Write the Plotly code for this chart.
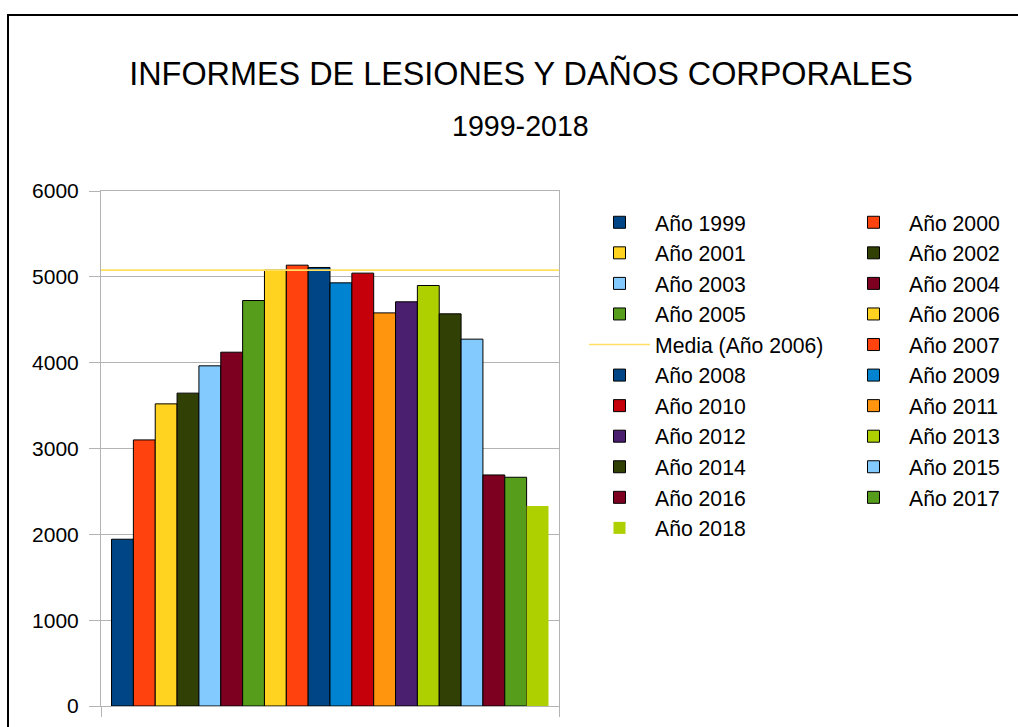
import plotly.graph_objects as go

# ---------------- data ----------------
years = ["1999", "2000", "2001", "2002", "2003", "2004", "2005", "2006", "2007", "2008",
         "2009", "2010", "2011", "2012", "2013", "2014", "2015", "2016", "2017", "2018"]
values = [1943, 3100, 3520, 3645, 3963, 4122, 4724, 5078, 5136, 5109,
          4930, 5043, 4580, 4709, 4899, 4569, 4274, 2692, 2665, 2331]
colors = ["#004586", "#ff420e", "#ffd320", "#314004", "#83caff", "#7e0021", "#579d1c",
          "#ffd320", "#ff420e", "#004586", "#0084d1", "#c5000b", "#ff950e", "#4b1f6f",
          "#aecf00", "#314004", "#83caff", "#7e0021", "#579d1c", "#aecf00"]
y_ticks = [0, 1000, 2000, 3000, 4000, 5000, 6000]
mean_series = "2006"
title_text = "INFORMES DE LESIONES Y DAÑOS CORPORALES"
subtitle_text = "1999-2018"

# ---------------- layout constants ----------------
W, H = 1018, 727
L, R, T, B = 101, 1018 - 559, 191, 727 - 706
PW, PH = W - L - R, H - T - B


def px_x(px):
    return (px - L) / PW


def px_y(py):
    return (H - B - py) / PH


FONT = "Liberation Sans, Arial, sans-serif"

fig = go.Figure()

cat = [""]
for i, (yr, v, c) in enumerate(zip(years, values, colors)):
    last = (i == len(years) - 1)
    fig.add_trace(go.Bar(
        x=cat, y=[v], name="Año " + yr,
        marker=dict(color=c, line=dict(color="#000000" if not last else c, width=1 if not last else 0)),
    ))
    if yr == mean_series:
        m = sum([v]) / 1
        fig.add_trace(go.Scatter(
            x=[0, 1], y=[m, m], xaxis="x2", mode="lines",
            name="Media (Año " + yr + ")",
            line=dict(color="#ffe060", width=1.6),
        ))

fig.update_layout(
    width=W, height=H,
    margin=dict(l=L, r=R, t=T, b=B, pad=0, autoexpand=False),
    paper_bgcolor="white", plot_bgcolor="white",
    font=dict(family=FONT, color="#000000", size=20),
    barmode="group", bargap=0.046, bargroupgap=0,
    showlegend=True,
    title=dict(text=title_text, x=521 / W, xanchor="center", y=1 - 74 / H, yanchor="middle",
               font=dict(size=32.4, family=FONT, color="#000000")),
    xaxis=dict(type="category", showticklabels=False, ticks="outside", tickson="boundaries",
               ticklen=10, tickcolor="#b3b3b3", showline=True, linecolor="#b3b3b3",
               linewidth=1, mirror=True, showgrid=False, zeroline=False),
    xaxis2=dict(overlaying="x", range=[0, 1], visible=False, fixedrange=True),
    yaxis=dict(range=[0, 6000], tickvals=y_ticks, ticks="outside", ticklen=11,
               tickcolor="#b3b3b3", showline=True, linecolor="#b3b3b3", linewidth=1,
               mirror=True, gridcolor="#b3b3b3", gridwidth=1, zeroline=False,
               tickfont=dict(size=21, family=FONT), ticklabelstandoff=6),
    legend=dict(orientation="h", x=px_x(584), y=px_y(202), xanchor="left", yanchor="top",
                entrywidth=178, entrywidthmode="pixels", itemwidth=61,
                font=dict(size=21.2, family=FONT), tracegroupgap=0, bgcolor="rgba(0,0,0,0)"),
    annotations=[dict(text=subtitle_text, x=px_x(520), y=px_y(126), xref="paper", yref="paper",
                      xanchor="center", yanchor="middle", showarrow=False,
                      font=dict(size=28.6, family=FONT, color="#000000"))],
    shapes=[dict(type="rect", xref="paper", yref="paper", x0=px_x(8), x1=px_x(1040),
                 y0=px_y(760), y1=px_y(15), line=dict(color="#000000", width=2),
                 fillcolor="rgba(0,0,0,0)", layer="above")],
)
fig.write_html("out.html", config={"displayModeBar": False},
               post_script="document.body.style.margin='0px';document.body.style.overflow='hidden';")
